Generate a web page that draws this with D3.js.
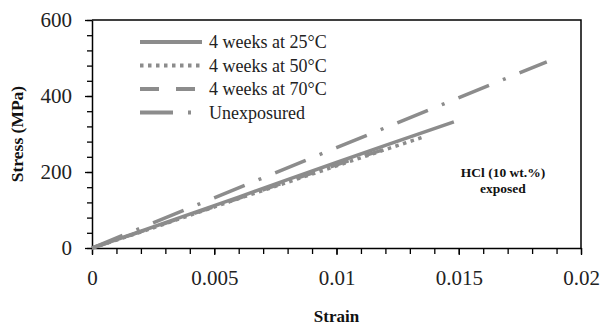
<!DOCTYPE html>
<html>
<head>
<meta charset="utf-8">
<script src="https://cdn.jsdelivr.net/npm/d3@7"></script>
<style>
  body { margin: 0; background: #fff; }
  svg text { font-family: "Liberation Serif", "Times New Roman", serif; }
</style>
</head>
<body>
<svg width="603" height="326"></svg>
<script>
// data
var strain25 = [0, 0.002, 0.004, 0.006, 0.008, 0.010, 0.012, 0.0148];
var stress25 = [0, 44, 89, 134, 180, 225, 270, 332];

var strain50 = [0, 0.002, 0.004, 0.006, 0.008, 0.010, 0.012, 0.0136];
var stress50 = [0, 42, 86, 130, 173, 216, 259, 293];

var strain70 = [0, 0.002, 0.004, 0.006, 0.008, 0.010, 0.0125];
var stress70 = [0, 43, 87, 131, 175, 219, 271];

var strainUn = [0, 0.005, 0.010, 0.0186];
var stressUn = [0, 132, 264, 490];

var seriesNames = ["4 weeks at 25\u00B0C", "4 weeks at 50\u00B0C", "4 weeks at 70\u00B0C", "Unexposured"];
var xTickLabels = ["0", "0.005", "0.01", "0.015", "0.02"];
var yTickLabels = ["0", "200", "400", "600"];

function main() {
    var svg = d3.select("svg"),
        left = 92, right = 581, top = 20, bottom = 248;

    var x = d3.scaleLinear().domain([0, 0.02]).range([left, right]),
        y = d3.scaleLinear().domain([0, 600]).range([bottom, top]);

    var grey = "#8c8c8c";
    var styles = [
        { dash: null },
        { dash: "3.5,4.5" },
        { dash: "19,17" },
        { dash: "33,15,3,15" }
    ];

    var series = [
        d3.zip(strain25, stress25),
        d3.zip(strain50, stress50),
        d3.zip(strain70, stress70),
        d3.zip(strainUn, stressUn)
    ];

    // minor ticks
    var minorX = d3.range(0, 0.02001, 0.001);
    svg.append("g")
        .attr("transform", "translate(0," + bottom + ")")
        .call(d3.axisBottom(x).tickValues(minorX).tickSize(6).tickSizeOuter(0).tickFormat(""))
        .call(function(g) { g.select(".domain").remove(); });

    var minorY = d3.range(0, 601, 40);
    svg.append("g")
        .attr("transform", "translate(" + left + ",0)")
        .call(d3.axisLeft(y).tickValues(minorY).tickSize(5).tickSizeOuter(0).tickFormat(""))
        .call(function(g) { g.select(".domain").remove(); });

    // major axes
    svg.append("g")
        .attr("transform", "translate(0," + bottom + ")")
        .call(d3.axisBottom(x).tickValues(xTickLabels.map(Number))
            .tickSize(7).tickSizeOuter(0).tickPadding(15)
            .tickFormat(function(d, i) { return xTickLabels[i]; }));

    svg.append("g")
        .attr("transform", "translate(" + left + ",0)")
        .call(d3.axisLeft(y).tickValues(yTickLabels.map(Number))
            .tickSize(7).tickSizeOuter(0).tickPadding(13)
            .tickFormat(function(d, i) { return yTickLabels[i]; }));

    svg.selectAll(".tick text")
        .attr("font-family", "Liberation Serif, Times New Roman, serif")
        .attr("font-size", 21)
        .attr("fill", "#222");
    svg.selectAll(".tick line").attr("stroke", "#000").attr("stroke-width", 1.3);
    svg.selectAll(".domain").attr("stroke", "#000").attr("stroke-width", 1.5);

    // box top and right
    svg.append("path")
        .attr("d", "M" + left + "," + top + "H" + right + "V" + bottom)
        .attr("fill", "none")
        .attr("stroke", "#000")
        .attr("stroke-width", 1.5);

    // lines
    var line = d3.line()
        .x(function(d) { return x(d[0]); })
        .y(function(d) { return y(d[1]); });

    series.forEach(function(s, i) {
        svg.append("path")
            .datum(s)
            .attr("fill", "none")
            .attr("stroke", grey)
            .attr("stroke-width", 3.5)
            .attr("stroke-dasharray", styles[i].dash)
            .attr("d", line);
    });

    // legend
    var legend = svg.append("g");
    seriesNames.forEach(function(name, i) {
        var ly = 42 + i * 23.5;
        legend.append("line")
            .attr("x1", 140).attr("x2", 202)
            .attr("y1", ly).attr("y2", ly)
            .attr("stroke", grey)
            .attr("stroke-width", 4)
            .attr("stroke-dasharray", styles[i].dash);
        legend.append("text")
            .attr("x", 209).attr("y", ly + 6)
            .attr("font-size", 18)
            .attr("fill", "#222")
            .text(name);
    });

    // annotation
    svg.append("text")
        .attr("x", 503).attr("y", 177)
        .attr("text-anchor", "middle")
        .attr("font-size", 13.5)
        .attr("font-weight", "bold")
        .attr("fill", "#111")
        .text("HCl (10 wt.%)");
    svg.append("text")
        .attr("x", 503).attr("y", 193)
        .attr("text-anchor", "middle")
        .attr("font-size", 13.5)
        .attr("font-weight", "bold")
        .attr("fill", "#111")
        .text("exposed");

    // axis titles
    svg.append("text")
        .attr("x", (left + right) / 2).attr("y", 322)
        .attr("text-anchor", "middle")
        .attr("font-size", 17)
        .attr("font-weight", "bold")
        .attr("fill", "#111")
        .text("Strain");

    svg.append("text")
        .attr("transform", "translate(23," + (top + bottom) / 2 + ") rotate(-90)")
        .attr("text-anchor", "middle")
        .attr("font-size", 17.5)
        .attr("font-weight", "bold")
        .attr("fill", "#111")
        .text("Stress (MPa)");
}
main();
</script>
</body>
</html>
